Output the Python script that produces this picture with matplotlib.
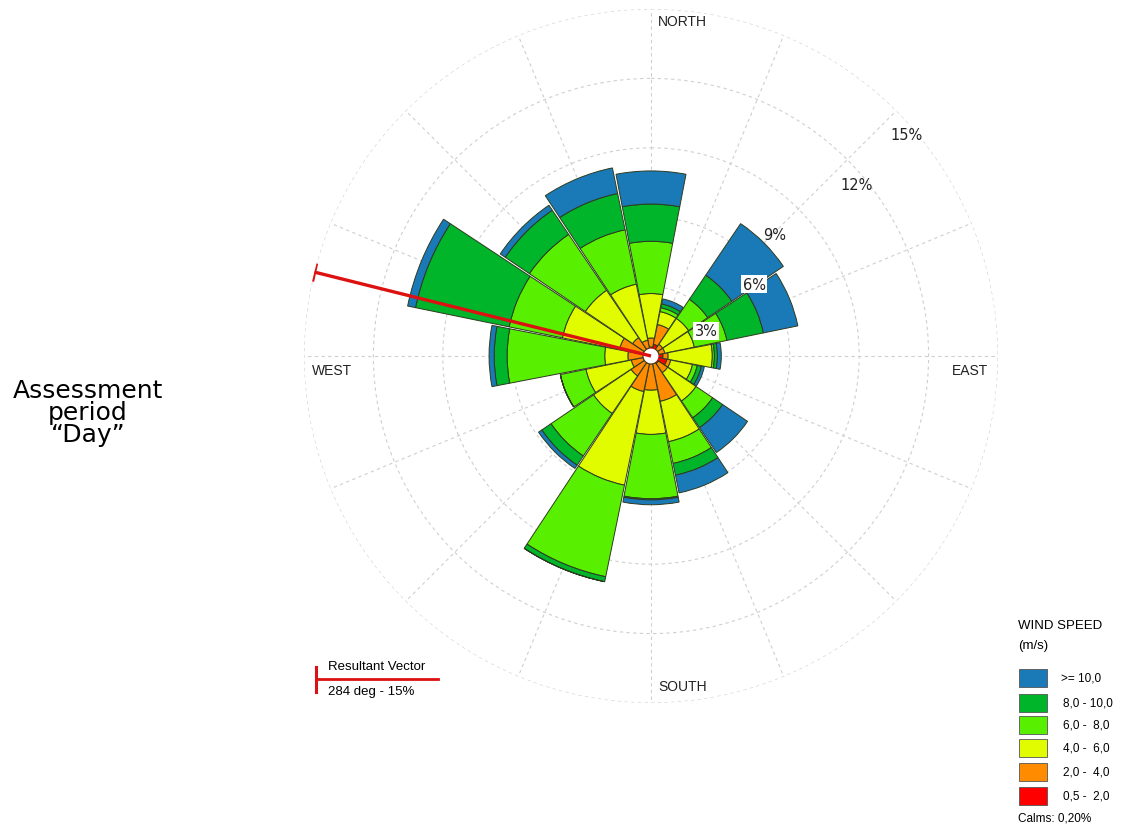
import numpy as np
import matplotlib
matplotlib.use('Agg')
import matplotlib.pyplot as plt
from matplotlib.markers import MarkerStyle
from matplotlib.transforms import Affine2D
from matplotlib.patches import Rectangle

# Windrichtungen (16 Sektoren, Kompassgrad)
richtungen = ['N', 'NNE', 'NE', 'ENE', 'E', 'ESE', 'SE', 'SSE',
              'S', 'SSW', 'SW', 'WSW', 'W', 'WNW', 'NW', 'NNW']
winkel = np.arange(16) * 22.5

# Haeufigkeit in % je Geschwindigkeitsklasse
v_05_2 = [0.39, 0.52, 0.35, 0.35, 0.52, 0.70, 0.39, 0.35, 0.35, 0.35, 0.35, 0.35, 0.35, 0.35, 0.35, 0.35]
v_2_4 = [0.39, 0.87, 0.26, 0.26, 0.22, 0.17, 0.48, 1.65, 1.13, 1.22, 0.69, 0.52, 0.65, 1.04, 0.61, 0.35]
v_4_6 = [1.92, 0.57, 1.35, 1.30, 1.91, 0.96, 1.48, 1.78, 1.91, 4.13, 1.96, 2.00, 1.00, 2.52, 2.47, 2.47]
v_6_8 = [2.26, 0.17, 1.00, 1.44, 0.09, 0.21, 0.87, 0.96, 2.78, 4.04, 2.22, 1.13, 4.22, 2.35, 2.92, 2.40]
v_8_10 = [1.61, 0.17, 1.26, 1.61, 0.13, 0.18, 0.52, 0.52, 0.05, 0.22, 0.48, 0.00, 0.56, 4.13, 1.26, 1.60]
v_10 = [1.43, 0.22, 2.69, 1.52, 0.17, 0.13, 1.30, 0.78, 0.21, 0.00, 0.17, 0.00, 0.22, 0.35, 0.26, 1.13]

klassen = [v_05_2, v_2_4, v_4_6, v_6_8, v_8_10, v_10]
klassen_namen = ['0,5 -  2,0', '2,0 -  4,0', '4,0 -  6,0', '6,0 -  8,0', '8,0 - 10,0', '>= 10,0']
farben = ['#ff0000', '#ff8c00', '#e2fc00', '#58f000', '#00b52a', '#1a7ab8']

ringe = [3, 6, 9, 12, 15]
ring_labels = ['3%', '6%', '9%', '12%', '15%']

resultante_richtung = 284
resultante_prozent = 15

W, H = 1126, 829
fig = plt.figure(figsize=(W / 100, H / 100), dpi=100)


def px(x, y):
    return x / W, 1 - y / H


# Polarachse: Zentrum (651, 357), Radius 347 px = 15 %
r_px = 347
ax = fig.add_axes([(651 - r_px) / W, (H - 357 - r_px) / H, 2 * r_px / W, 2 * r_px / H],
                  projection='polar')
ax.set_theta_zero_location('N')
ax.set_theta_direction(-1)
ax.set_ylim(0, 15)
ax.set_yticks(ringe)
ax.set_yticklabels([])
ax.set_xticks(np.radians(winkel))
ax.set_xticklabels([])
ax.grid(True, color='#cfcfcf', linestyle=(0, (3, 3)), linewidth=0.8)
ax.spines['polar'].set_visible(False)
ax.set_axisbelow(True)

theta = np.radians(winkel)
breite = np.radians(21.8)
boden = np.zeros(16)
for werte, farbe in zip(klassen, farben):
    werte = np.array(werte)
    ax.bar(theta, werte, width=breite, bottom=boden, color=farbe,
           edgecolor='#2e3a1e', linewidth=0.7, zorder=3)
    boden = boden + werte

# weisses Loch in der Mitte
ax.bar(0, 0.32, width=2 * np.pi, bottom=0, color='white', edgecolor='none', zorder=6)

# Resultierender Vektor
th = np.radians(resultante_richtung)
ax.plot([th, th], [0, resultante_prozent], color='#dd1111', lw=2.4, zorder=7,
        solid_capstyle='butt')
kappe = MarkerStyle('|', transform=Affine2D().rotate_deg(-(resultante_richtung - 270)))
ax.plot([th], [resultante_prozent], marker=kappe, markersize=14, mew=2.4,
        color='#dd1111', zorder=7)

# Ringbeschriftung
label_pos = [(706, 332), (754, 285), (775, 236), (857, 186), (907, 135)]
for txt, (x, y) in zip(ring_labels, label_pos):
    box = None
    if txt in ('3%', '6%'):
        box = dict(facecolor='white', edgecolor='none', pad=1.2)
    fig.text(*px(x, y), txt, ha='center', va='center', fontsize=10.5,
             family='DejaVu Sans', color='#222222', bbox=box, zorder=10)

# Himmelsrichtungen
for txt, (x, y) in [('NORTH', (682, 22)), ('SOUTH', (683, 687)),
                    ('WEST', (332, 371)), ('EAST', (970, 371))]:
    fig.text(*px(x, y), txt, ha='center', va='center', fontsize=10,
             family='Liberation Sans', color='#222222')

# Beschreibung links
fig.text(*px(88, 413), 'Assessment\nperiod\n\u201cDay\u201d', ha='center', va='center',
         fontsize=18, family='DejaVu Sans', linespacing=0.88)

# Legende resultierender Vektor
fig.add_artist(plt.Line2D([316 / W, 438 / W], [1 - 680 / H, 1 - 680 / H],
                          color='#dd1111', lw=2))
fig.add_artist(plt.Line2D([316 / W, 316 / W], [1 - 668 / H, 1 - 693 / H],
                          color='#dd1111', lw=2.2))
fig.text(*px(328, 667), 'Resultant Vector', ha='left', va='center', fontsize=9.5,
         family='Liberation Sans')
fig.text(*px(328, 692), '284 deg - 15%', ha='left', va='center', fontsize=9.5,
         family='Liberation Sans')

# Legende Windgeschwindigkeit
fig.text(*px(1018, 626), 'WIND SPEED', ha='left', va='center', fontsize=9.5,
         family='Liberation Sans')
fig.text(*px(1018, 646), '(m/s)', ha='left', va='center', fontsize=9.5,
         family='Liberation Sans')
y_kaesten = [797, 773, 749, 726, 704, 679]
for name, farbe, yk in zip(klassen_namen, farben, y_kaesten):
    x0, y0 = px(1019, yk + 9)
    fig.add_artist(Rectangle((x0, y0), 28 / W, 18 / H, facecolor=farbe,
                             edgecolor='#555555', lw=0.6, transform=fig.transFigure))
    xt = 1061 if name.startswith('>') else 1063
    fig.text(*px(xt, yk), name, ha='left', va='center', fontsize=8.5,
             family='Liberation Sans')
fig.text(*px(1018, 819), 'Calms: 0,20%', ha='left', va='center', fontsize=8.5,
         family='Liberation Sans')

fig.savefig('out.png', dpi=100)
